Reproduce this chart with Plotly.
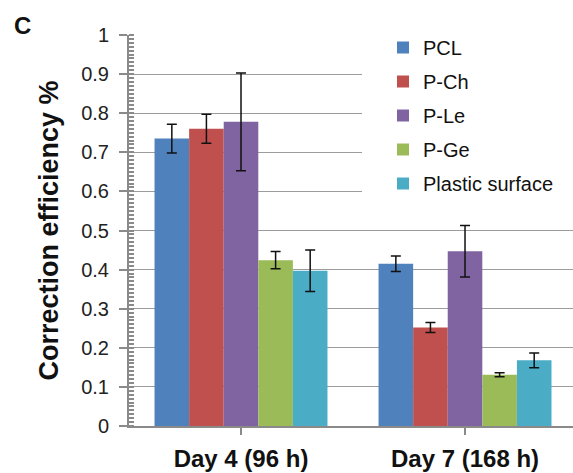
import plotly.graph_objects as go

categories = ["Day 4 (96 h)", "Day 7 (168 h)"]
series_names = ["PCL", "P-Ch", "P-Le", "P-Ge", "Plastic surface"]
series_colors = ["#4F81BD", "#C0504D", "#8064A2", "#9BBB59", "#4BACC6"]

pcl = [0.735, 0.415]
p_ch = [0.760, 0.252]
p_le = [0.778, 0.447]
p_ge = [0.424, 0.131]
plastic = [0.397, 0.168]

pcl_err = [0.037, 0.020]
p_ch_err = [0.037, 0.013]
p_le_err = [0.125, 0.066]
p_ge_err = [0.022, 0.005]
plastic_err = [0.053, 0.019]

values = [pcl, p_ch, p_le, p_ge, plastic]
errors = [pcl_err, p_ch_err, p_le_err, p_ge_err, plastic_err]

FONT = "Liberation Sans, Arial, sans-serif"
GRID = "#9c9c9c"
AXIS = "#8a8a8a"

W, H = 573, 473
L, T, B = 129, 35, 47
PW, PH = W - L, H - T - B

fig = go.Figure()
for name, color, vals, errs in zip(series_names, series_colors, values, errors):
    fig.add_trace(go.Bar(
        name=name,
        x=[0, 1],
        y=vals,
        marker=dict(color=color, line=dict(width=0)),
        error_y=dict(type="data", array=errs, visible=True,
                     color="#111111", thickness=1.5, width=5),
        legendgroup=name,
    ))

fig.update_layout(
    width=W, height=H,
    margin=dict(l=L, r=0, t=T, b=B, pad=0, autoexpand=False),
    paper_bgcolor="white", plot_bgcolor="white",
    barmode="group", bargap=0.228, bargroupgap=0,
    font=dict(family=FONT, color="#1a1a1a"),
    showlegend=True,
    legend=dict(
        x=(383 - L) / PW, xanchor="left",
        y=1 + 7 / PH, yanchor="top",
        bgcolor="rgba(0,0,0,0)",
        font=dict(family=FONT, size=20, color="#111111"),
        tracegroupgap=5,
    ),
    xaxis=dict(
        automargin=False,
        range=[-0.5, 1.482],
        tickmode="array", tickvals=[0, 1], ticktext=categories,
        tickson="boundaries",
        ticks="outside", ticklen=7, tickwidth=2, tickcolor=AXIS,
        showline=True, linecolor=AXIS, linewidth=2,
        showgrid=False, zeroline=False,
        tickfont=dict(family=FONT, size=24, color="#111111", weight="bold"),
        ticklabelstandoff=3,
    ),
    yaxis=dict(
        automargin=False,
        range=[0, 1],
        dtick=0.1, tick0=0,
        ticks="outside", ticklen=8, tickwidth=2, tickcolor=AXIS,
        showline=True, linecolor=AXIS, linewidth=2,
        showgrid=True, gridcolor=GRID, gridwidth=1.3,
        zeroline=False,
        tickfont=dict(family=FONT, size=20, color="#222222"),
        ticklabelstandoff=6,
        minor=dict(dtick=0.01, ticks="inside", ticklen=5, tickwidth=1.5,
                   tickcolor=AXIS, showgrid=False),
        title=dict(text="Correction efficiency %", standoff=15,
                   font=dict(family=FONT, size=27, color="#111111", weight="bold")),
    ),
    shapes=[dict(
        type="rect", layer="above",
        xref="paper", yref="paper",
        x0=(362 - L) / PW, x1=1.02, y0=0.52, y1=1.01,
        fillcolor="white", line=dict(width=0),
    )],
    annotations=[dict(
        text="<b>C</b>", xref="paper", yref="paper",
        x=(22 - L) / PW, y=(H - B - 26) / PH,
        xanchor="center", yanchor="middle", showarrow=False,
        font=dict(family=FONT, size=24, color="#111111"),
    )],
)

fig.write_html("out.html",
               config={"displayModeBar": False},
               post_script="document.body.style.margin='0';document.body.style.overflow='hidden';")
